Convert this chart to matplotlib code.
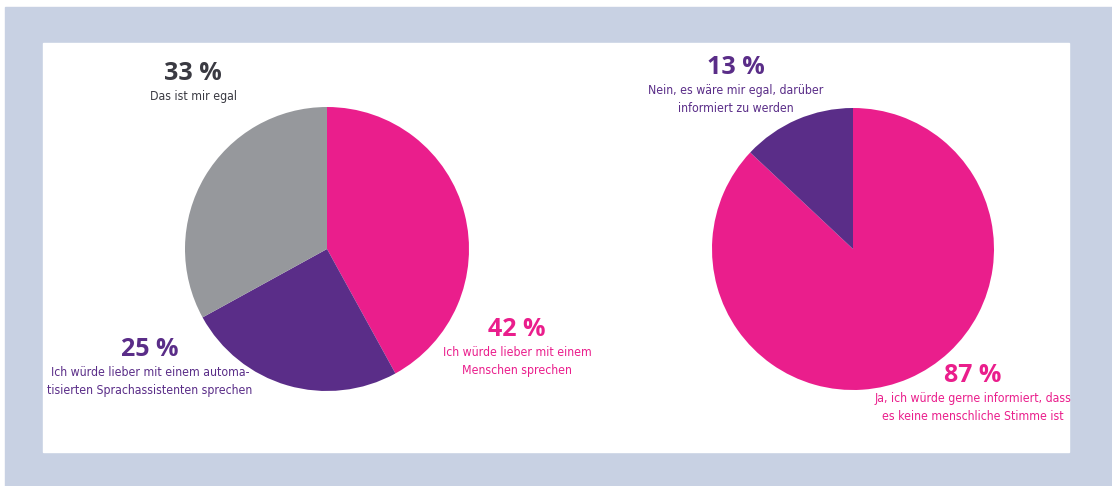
import matplotlib.pyplot as plt
from matplotlib.patches import Rectangle

# umfrage: bevorzugter gesprächspartner
links_werte = [42, 25, 33]
links_farben = ['#ea1e8c', '#5a2d88', '#96989c']
links_prozent = ['42 %', '25 %', '33 %']
links_texte = ['Ich würde lieber mit einem\nMenschen sprechen',
               'Ich würde lieber mit einem automa-\ntisierten Sprachassistenten sprechen',
               'Das ist mir egal']

# umfrage: information über maschinenstimme
rechts_werte = [87, 13]
rechts_farben = ['#ea1e8c', '#5a2d88']
rechts_prozent = ['87 %', '13 %']
rechts_texte = ['Ja, ich würde gerne informiert, dass\nes keine menschliche Stimme ist',
                'Nein, es wäre mir egal, darüber\ninformiert zu werden']

W, H = 1112, 486
fig = plt.figure(figsize=(W / 100, H / 100), dpi=100)
ax = fig.add_axes([0, 0, 1, 1])

# rahmen
ax.add_patch(Rectangle((5, 0), W - 5, H - 7, color='#c8d1e3', zorder=0))
ax.add_patch(Rectangle((43, H - 452), 1069 - 43, 452 - 43, color='white', zorder=1))

ax.pie(links_werte, colors=links_farben, startangle=90, counterclock=False,
       center=(327, H - 249), radius=142, frame=True,
       wedgeprops=dict(linewidth=0, zorder=2))
ax.pie(rechts_werte, colors=rechts_farben, startangle=90, counterclock=False,
       center=(853, H - 249), radius=141, frame=True,
       wedgeprops=dict(linewidth=0, zorder=2))
ax.set_xlim(0, W)
ax.set_ylim(0, H)
ax.set_aspect('equal')
ax.axis('off')


def beschriftung(x, y, prozent, text, farbe, textfarbe=None):
    ax.text(x, H - y, prozent, ha='center', va='center', fontsize=18,
            fontweight='bold', color=farbe, family=['Open Sans', 'DejaVu Sans'],
            zorder=3)
    ax.text(x, H - y - 16, text, ha='center', va='top', fontsize=8.8,
            color=textfarbe or farbe, family='DejaVu Sans', fontstretch='condensed',
            linespacing=1.5, zorder=3)


beschriftung(517, 330, links_prozent[0], links_texte[0], links_farben[0])
beschriftung(150, 350, links_prozent[1], links_texte[1], links_farben[1])
beschriftung(193, 74, links_prozent[2], links_texte[2], '#3a3a42')
beschriftung(973, 376, rechts_prozent[0], rechts_texte[0], rechts_farben[0])
beschriftung(736, 68, rechts_prozent[1], rechts_texte[1], rechts_farben[1])

fig.savefig('out.png', dpi=100, facecolor='white')
